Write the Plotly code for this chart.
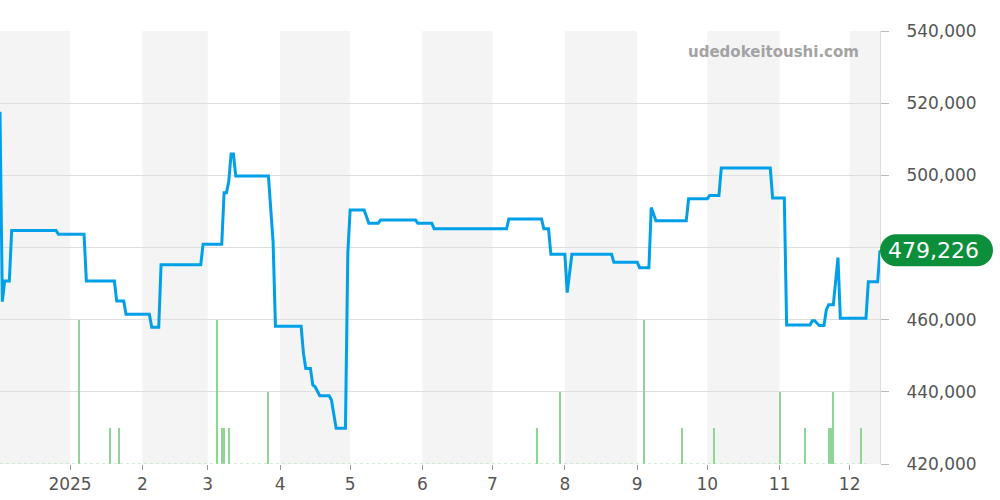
import pandas as pd
import plotly.graph_objects as go

# price breakpoints
price_dates = [
    '2024-12-02', '2024-12-03', '2024-12-04', '2024-12-06', '2024-12-07', '2024-12-26', '2024-12-27',
    '2025-01-07', '2025-01-08', '2025-01-20', '2025-01-21', '2025-01-24', '2025-01-25', '2025-02-04',
    '2025-02-05', '2025-02-08', '2025-02-09', '2025-02-26', '2025-02-27', '2025-03-07', '2025-03-08',
    '2025-03-09', '2025-03-10', '2025-03-11', '2025-03-12', '2025-03-13', '2025-03-27', '2025-03-28',
    '2025-03-29', '2025-03-30', '2025-04-10', '2025-04-11', '2025-04-12', '2025-04-14', '2025-04-15',
    '2025-04-16', '2025-04-18', '2025-04-22', '2025-04-23', '2025-04-25', '2025-04-29', '2025-04-30',
    '2025-05-01', '2025-05-07', '2025-05-09', '2025-05-13', '2025-05-14', '2025-05-29', '2025-05-30',
    '2025-06-05', '2025-06-06', '2025-07-07', '2025-07-08', '2025-07-22', '2025-07-23', '2025-07-25',
    '2025-07-26', '2025-08-01', '2025-08-02', '2025-08-04', '2025-08-21', '2025-08-22', '2025-09-01',
    '2025-09-02', '2025-09-06', '2025-09-07', '2025-09-09', '2025-09-22', '2025-09-23', '2025-10-01',
    '2025-10-02', '2025-10-06', '2025-10-07', '2025-10-28', '2025-10-29', '2025-11-03', '2025-11-04',
    '2025-11-14', '2025-11-15', '2025-11-16', '2025-11-18', '2025-11-20', '2025-11-21', '2025-11-22',
    '2025-11-24', '2025-11-26', '2025-11-27', '2025-12-08', '2025-12-09', '2025-12-13', '2025-12-14',
]
price_values = [
    517600, 465000, 470700, 470700, 484700, 484700, 483700,
    483700, 470700, 470700, 465200, 465200, 461500, 461500,
    457900, 457900, 475200, 475200, 480900, 480900, 495200,
    495200, 498200, 505900, 505900, 499800, 499800, 489000,
    481500, 458200, 458200, 450700, 446500, 446500, 441900,
    441400, 438900, 438900, 437750, 429900, 429900, 478400,
    490400, 490400, 486700, 486700, 487600, 487600, 486700,
    486700, 485200, 485200, 487900, 487900, 485200, 485200,
    478100, 478100, 467500, 478100, 478100, 475900, 475900,
    474400, 474400, 491100, 487400, 487400, 493500, 493500,
    494400, 494400, 502000, 502000, 493700, 493700, 458500,
    458500, 459700, 459700, 458400, 458400, 462700, 464100,
    464100, 477200, 460400, 460400, 470500, 470500, 479226,
]

# trade counts
volume_dates = [
    '2025-01-05', '2025-01-18', '2025-01-22', '2025-03-05', '2025-03-07', '2025-03-08', '2025-03-10',
    '2025-03-27', '2025-07-20', '2025-07-30', '2025-09-04', '2025-09-20', '2025-10-04', '2025-11-01',
    '2025-11-12', '2025-11-22', '2025-11-23', '2025-11-24', '2025-12-06',
]
volume_values = [4, 1, 1, 4, 1, 1, 1, 2, 1, 2, 4, 1, 1, 2, 1, 1, 1, 2, 1]

y_ticks = [420000, 440000, 460000, 480000, 500000, 520000, 540000]
# 480,000 sits behind the last-price tag
y_labels = ['420,000', '440,000', '460,000', '', '500,000', '520,000', '540,000']
month_ticks = ['2025-01-01', '2025-02-01', '2025-03-01', '2025-04-01', '2025-05-01', '2025-06-01',
               '2025-07-01', '2025-08-01', '2025-09-01', '2025-10-01', '2025-11-01', '2025-12-01']
month_labels = ['2025', '2', '3', '4', '5', '6', '7', '8', '9', '10', '11', '12']

start, end = price_dates[0], price_dates[-1]
last_value = price_values[-1]

fig = go.Figure()

# dotted baseline of the volume strip
fig.add_trace(go.Scatter(
    x=[start, '2025-12-10'], y=[0, 0], yaxis='y2', mode='lines',
    line=dict(color='#a9dcab', width=1.2, dash='dot'), hoverinfo='skip'
))
fig.add_trace(go.Bar(
    x=volume_dates, y=volume_values, yaxis='y2',
    width=0.45 * 86400000, marker=dict(color='#8fd696', line=dict(width=0)),
    name='Volume'
))
fig.add_trace(go.Scatter(
    x=price_dates, y=price_values, mode='lines',
    line=dict(color='#00a0e9', width=3), name='Price'
))

# alternating month bands
bounds = [start] + month_ticks + [end]
shapes = []
for i in range(len(bounds) - 1):
    month = pd.Timestamp(bounds[i]).month
    if month % 2 == 0:
        shapes.append(dict(type='rect', xref='x', yref='paper', x0=bounds[i], x1=bounds[i + 1],
                           y0=0, y1=1, fillcolor='#f4f4f4', line=dict(width=0), layer='below'))

# rounded tag behind the last price
r, w = 16, 113
k = 0.5523 * r
pill = (f'M {r},{r} L {w - r},{r} C {w - r + k},{r} {w},{k} {w},0 '
        f'C {w},{-k} {w - r + k},{-r} {w - r},{-r} L {r},{-r} '
        f'C {r - k},{-r} 0,{-k} 0,0 C 0,{k} {r - k},{r} {r},{r} Z')
shapes.append(dict(type='path', path=pill, xref='paper', yref='y',
                   xsizemode='pixel', ysizemode='pixel', xanchor=1, yanchor=last_value,
                   fillcolor='#0b8f3a', line=dict(width=0), layer='above'))

fig.update_layout(
    width=1000, height=500,
    margin=dict(l=0, r=120, t=31, b=36),
    plot_bgcolor='white', paper_bgcolor='white',
    showlegend=False, bargap=0,
    font=dict(family='DejaVu Sans', color='#555555'),
    shapes=shapes,
    xaxis=dict(
        type='date', range=[start, end], tickvals=month_ticks, ticktext=month_labels,
        showgrid=False, zeroline=False, ticks='outside', ticklen=5, tickcolor='#999999',
        tickfont=dict(size=17, color='#555555'), automargin=False
    ),
    yaxis=dict(
        side='right', range=[420000, 540000], tickvals=y_ticks, ticktext=y_labels,
        showgrid=True, gridcolor='#dedede', zeroline=False,
        showline=True, linecolor='#dddddd', ticks='outside', ticklen=8, tickcolor='#bbbbbb',
        ticklabelstandoff=14,
        tickfont=dict(size=17, color='#555555'), automargin=False
    ),
    yaxis2=dict(overlaying='y', range=[0, 12], visible=False),
    annotations=[
        dict(xref='paper', yref='paper', x=0.978, y=0.952, xanchor='right', yanchor='middle',
             text='<b>udedokeitoushi.com</b>', showarrow=False,
             font=dict(size=15, color='#a3a3a3')),
        dict(xref='paper', yref='y', x=1 + 53 / 880, y=last_value, xanchor='center', yanchor='middle',
             text=f'{last_value:,}', showarrow=False, font=dict(size=22, color='white')),
    ],
)

fig.write_html("out.html", config={'displayModeBar': False},
               post_script="document.body.style.margin='0';")
